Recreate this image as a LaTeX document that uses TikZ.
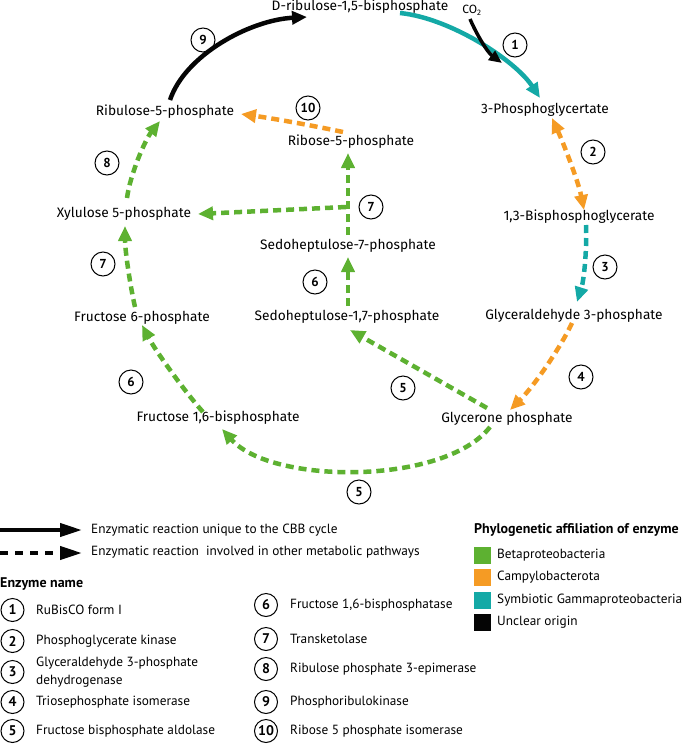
\documentclass[tikz,border=0pt]{standalone}
\usepackage{fontspec}
\setmainfont{PT Sans}
\newfontfamily\labfont{Fira Sans}
\usetikzlibrary{arrows.meta}
\definecolor{cgreen}{HTML}{5DB131}
\definecolor{corange}{HTML}{F59B24}
\definecolor{cteal}{HTML}{14A9A6}
\definecolor{cblack}{HTML}{050505}
\begin{document}
\begin{tikzpicture}[x=1pt,y=-1pt,
  lbl/.style={inner sep=0pt, font=\labfont\fontsize{13.7}{15}\selectfont},
  leg/.style={inner sep=0pt, anchor=west, font=\fontsize{13.3}{15}\selectfont},
  legb/.style={inner sep=0pt, anchor=west, font=\bfseries\fontsize{14}{15}\selectfont},
  num/.style={circle, draw, line width=1pt, minimum size=24pt, inner sep=0pt, font=\bfseries\fontsize{13}{13}\selectfont},
  lnum/.style={circle, draw, line width=1pt, minimum size=23pt, inner sep=0pt, font=\bfseries\fontsize{14}{14}\selectfont},
  solidarr/.style={line width=4.5pt, -{Triangle[length=15pt,width=13pt]}},
  dasharr/.style={line width=4.5pt, dash pattern=on 8pt off 5pt, -{Triangle[length=15pt,width=13pt]}},
  dashboth/.style={line width=4.5pt, dash pattern=on 8pt off 5pt, {Triangle[length=15pt,width=13pt]}-{Triangle[length=15pt,width=13pt]}},
  sq/.style={minimum size=17pt, inner sep=0pt}
]
\useasboundingbox (0,0) rectangle (685,745);

% metabolites
\node[lbl] (rubp) at (360,7) {D-ribulose-1,5-bisphosphate};
\node[lbl, font=\labfont\fontsize{12}{13}\selectfont] (co2) at (472,10) {CO\textsubscript{2}};
\node[lbl] (pga) at (545,110) {3-Phosphoglycertate};
\node[lbl] (bpg) at (579,217) {1,3-Bisphosphoglycerate};
\node[lbl] (g3p) at (574,316) {Glyceraldehyde 3-phosphate};
\node[lbl] (dhap) at (507,419) {Glycerone phosphate};
\node[lbl] (fbp) at (218,418) {Fructose 1,6-bisphosphate};
\node[lbl] (f6p) at (142,318) {Fructose 6-phosphate};
\node[lbl] (x5p) at (124,214) {Xylulose 5-phosphate};
\node[lbl] (ru5p) at (165,112) {Ribulose-5-phosphate};
\node[lbl] (r5p) at (351,142) {Ribose-5-phosphate};
\node[lbl] (s7p) at (348,246) {Sedoheptulose-7-phosphate};
\node[lbl] (sbp) at (347,317) {Sedoheptulose-1,7-phosphate};

% enzyme numbers
\node[num] (e9) at (203,40) {9};
\node[num] (e1) at (515,45) {1};
\node[num] (e10) at (308,108) {10};
\node[num] (e2) at (593,152) {2};
\node[num] (e8) at (107,163) {8};
\node[num] (e7c) at (371,207) {7};
\node[num] (e7l) at (103,264) {7};
\node[num] (e3) at (605,267) {3};
\node[num] (e6c) at (315,282) {6};
\node[num] (e6l) at (131,382) {6};
\node[num] (e4) at (581,377) {4};
\node[num] (e5c) at (403,388) {5};
\node[num] (e5b) at (359,492) {5};

% connector end points
\coordinate (a9s) at (170,100);  \coordinate (a9e) at (307,17);
\coordinate (a1s) at (400,13);   \coordinate (a1e) at (540,98);
\coordinate (co2s) at (470,19);  \coordinate (co2e) at (502,63);
\coordinate (a10s) at (343,132); \coordinate (a10e) at (241,114);
\coordinate (a2s) at (552,118);  \coordinate (a2e) at (584,210);
\coordinate (a3s) at (586,225);  \coordinate (a3e) at (577,302);
\coordinate (a4s) at (572,323);  \coordinate (a4e) at (510,410);
\coordinate (a5cs) at (487,408); \coordinate (a5ce) at (350,330);
\coordinate (a5bs) at (490,427); \coordinate (a5be) at (222,429);
\coordinate (a6ls) at (203,412); \coordinate (a6le) at (142,325);
\coordinate (a7ls) at (135,307); \coordinate (a7le) at (125,226);
\coordinate (a8s) at (127,198);  \coordinate (a8e) at (160,121);
\coordinate (a7cs) at (348,235); \coordinate (a7ce) at (348,153);
\coordinate (a7hs) at (346,207); \coordinate (a7he) at (198,214);
\coordinate (a6cs) at (348,306); \coordinate (a6ce) at (348,257);

% connectors
\draw[solidarr, cblack] (a9s) .. controls (185,55) and (250,20) .. (a9e);
\draw[solidarr, cteal] (a1s) .. controls (450,18) and (515,60) .. (a1e);
\draw[solidarr, cblack, line width=3.5pt, -{Triangle[length=13pt,width=11pt]}] (co2s) .. controls (476,33) and (487,52) .. (co2e);
\draw[dasharr, corange] (a10s) .. controls (310,125) and (270,118) .. (a10e);
\draw[dashboth, corange] (a2s) .. controls (562,140) and (578,180) .. (a2e);
\draw[dasharr, cteal] (a3s) .. controls (587,250) and (584,280) .. (a3e);
\draw[dasharr, corange] (a4s) .. controls (562,345) and (535,385) .. (a4e);
\draw[dasharr, cgreen] (a5cs) -- (a5ce);
\draw[dasharr, cgreen] (a5bs) .. controls (445,485) and (272,485) .. (a5be);
\draw[dasharr, cgreen] (a6ls) .. controls (185,392) and (155,350) .. (a6le);
\draw[dasharr, cgreen] (a7ls) .. controls (130,285) and (125,250) .. (a7le);
\draw[dasharr, cgreen] (a8s) .. controls (130,175) and (145,140) .. (a8e);
\draw[dasharr, cgreen] (a7cs) -- (a7ce);
\draw[dasharr, cgreen] (a7hs) -- (a7he);
\draw[dasharr, cgreen] (a6cs) -- (a6ce);

% legend: line styles
\coordinate (ls1) at (0,530); \coordinate (le1) at (82,530);
\coordinate (ls2) at (0,553); \coordinate (le2) at (82,553);
\draw[line width=4pt, cblack, -{Triangle[length=22pt,width=13pt]}] (ls1) -- (le1);
\draw[line width=4pt, cblack, dash pattern=on 8pt off 7pt, -{Triangle[length=22pt,width=13pt]}] (ls2) -- (le2);
\node[leg] (lt1) at (91,530) {Enzymatic reaction unique to the CBB cycle};
\node[leg] (lt2) at (91,552) {Enzymatic reaction\ \ involved in other metabolic pathways};

% legend: phylogeny
\node[legb] (ptitle) at (474,530) {Phylogenetic affiliation of enzyme};
\node[sq, fill=cgreen, anchor=west] (sq1) at (474,555) {};
\node[sq, fill=corange, anchor=west] (sq2) at (474,577) {};
\node[sq, fill=cteal, anchor=west] (sq3) at (474,600) {};
\node[sq, fill=cblack, anchor=west] (sq4) at (474,622) {};
\node[leg] (pt1) at (497,555) {Betaproteobacteria};
\node[leg] (pt2) at (497,577) {Campylobacterota};
\node[leg] (pt3) at (497,600) {Symbiotic Gammaproteobacteria};
\node[leg] (pt4) at (497,622) {Unclear origin};

% legend: enzyme names
\node[legb] (ename) at (0,584) {Enzyme name};
\node[lnum] (l1) at (12.5,610) {1};
\node[lnum] (l2) at (12.5,641) {2};
\node[lnum] (l3) at (12.5,672) {3};
\node[lnum] (l4) at (12.5,702) {4};
\node[lnum] (l5) at (12.5,731) {5};
\node[leg] (t1) at (36,610) {RuBisCO form I};
\node[leg] (t2) at (36,641) {Phosphoglycerate kinase};
\node[leg] (t3a) at (36,663) {Glyceraldehyde 3-phosphate};
\node[leg] (t3b) at (36,681) {dehydrogenase};
\node[leg] (t4) at (36,702) {Triosephosphate isomerase};
\node[leg] (t5) at (36,731) {Fructose bisphosphate aldolase};
\node[lnum] (l6) at (266,605) {6};
\node[lnum] (l7) at (266,639) {7};
\node[lnum] (l8) at (266,669) {8};
\node[lnum] (l9) at (266,702) {9};
\node[lnum] (l10) at (266,731) {10};
\node[leg] (t6) at (290,605) {Fructose 1,6-bisphosphatase};
\node[leg] (t7) at (290,639) {Transketolase};
\node[leg] (t8) at (290,669) {Ribulose phosphate 3-epimerase};
\node[leg] (t9) at (290,702) {Phosphoribulokinase};
\node[leg] (t10) at (290,731) {Ribose 5 phosphate isomerase};
\end{tikzpicture}
\end{document}
